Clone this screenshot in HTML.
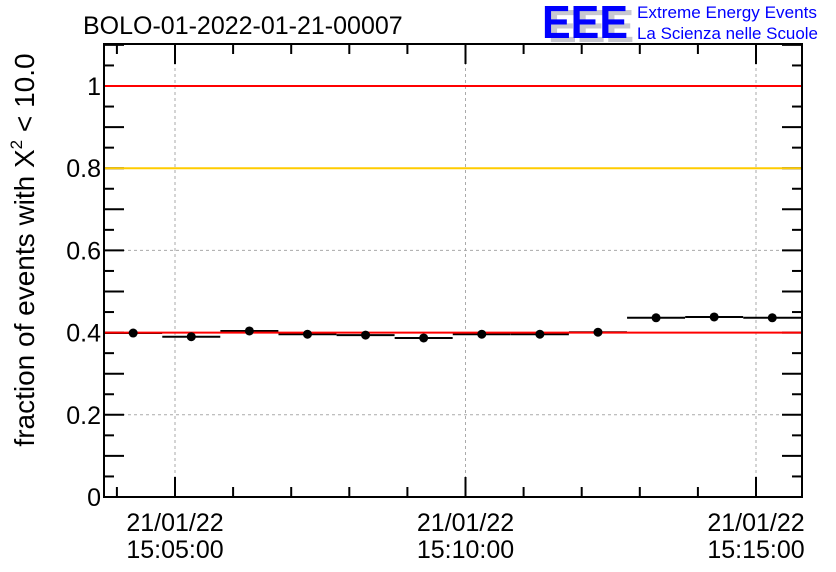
<!DOCTYPE html>
<html><head><meta charset="utf-8"><style>
body{margin:0;background:#fff;}
svg{display:block;font-family:"Liberation Sans",sans-serif;}
</style></head><body>
<svg id="c" width="836" height="572" viewBox="0 0 836 572">
<text x="83" y="34" font-size="25" fill="#000">BOLO-01-2022-01-21-00007</text>
<g>
<text x="548" y="42" font-size="46" font-weight="bold" fill="#c8c8d0" textLength="86" lengthAdjust="spacingAndGlyphs">EEE</text>
<text x="542" y="38" font-size="46" font-weight="bold" fill="#0000ff" textLength="86" lengthAdjust="spacingAndGlyphs">EEE</text>
<text x="637" y="18" font-size="17" fill="#0000ff" textLength="180" lengthAdjust="spacingAndGlyphs">Extreme Energy Events</text>
<text x="637" y="39" font-size="17" fill="#0000ff" textLength="181" lengthAdjust="spacingAndGlyphs">La Scienza nelle Scuole</text>
</g>
<text transform="translate(34,250) rotate(-90)" text-anchor="middle" font-size="28" fill="#000">fraction of events with X<tspan dy="-12" font-size="17">2</tspan><tspan dy="12"> &lt; 10.0</tspan></text>
<g id="plot"></g>
</svg>
<script>
const categories = ["15:04:17","15:05:17","15:06:17","15:07:17","15:08:17","15:09:17","15:10:17","15:11:17","15:12:17","15:13:17","15:14:17","15:15:17"];
const minutes = [-0.72,0.28,1.28,2.28,3.28,4.28,5.28,6.28,7.28,8.28,9.28,10.28];
const values = [0.399,0.390,0.404,0.396,0.394,0.387,0.396,0.396,0.401,0.436,0.438,0.436];
const xTickMinutes = [0,5,10];
const xTickLabels = [["21/01/22","15:05:00"],["21/01/22","15:10:00"],["21/01/22","15:15:00"]];
const yTickValues = [0,0.2,0.4,0.6,0.8,1];
const yTickLabels = ["0","0.2","0.4","0.6","0.8","1"];
const refLines = [[1.0,"#ff0000"],[0.8,"#ffcc00"],[0.4,"#ff0000"]];

const L=104,R=802,T=44,B=497;
const X=m=>175+m*58.1;
const Y=v=>B-v*411;
const NS="http://www.w3.org/2000/svg";
const g=document.getElementById('plot');
function mk(t,a){const e=document.createElementNS(NS,t);for(const k in a)e.setAttribute(k,a[k]);g.appendChild(e);return e;}
// grid
xTickMinutes.forEach(m=>{const e=mk('line',{x1:X(m),x2:X(m),y1:T,y2:B,stroke:'#aaa','stroke-dasharray':'3,3'});

});
[0.2,0.6].forEach(v=>{const e=mk('line',{x1:L,x2:R,y1:Y(v),y2:Y(v),stroke:'#aaa','stroke-dasharray':'3,3'});

});
// y ticks
for(let i=0;i<=22;i++){const v=i*0.05,len=(i%2==0)?20:10;
mk('line',{x1:L,x2:L+len,y1:Y(v),y2:Y(v),stroke:'#000','stroke-width':2});
mk('line',{x1:R,x2:R-len,y1:Y(v),y2:Y(v),stroke:'#000','stroke-width':2});}
yTickValues.forEach((v,i)=>{const t=mk('text',{x:L-3,y:Y(v)+9,'text-anchor':'end','font-size':25});t.textContent=yTickLabels[i];

});
// x ticks
for(let m=-1;m<=10;m++){const len=(m%5==0)?20:10;
mk('line',{x1:X(m),x2:X(m),y1:B,y2:B-len,stroke:'#000','stroke-width':2});
mk('line',{x1:X(m),x2:X(m),y1:T,y2:T+len,stroke:'#000','stroke-width':2});}
xTickMinutes.forEach((m,i)=>{xTickLabels[i].forEach((s,j)=>{const t=mk('text',{x:X(m),y:531+j*27,'text-anchor':'middle','font-size':25});t.textContent=s;

});});
// error bars
values.forEach((v,i)=>{const cx=X(minutes[i]);
const e=mk('line',{x1:cx-29,x2:cx+29,y1:Y(v),y2:Y(v),stroke:'#000','stroke-width':2});

});
// reference lines
refLines.forEach(r=>{const e=mk('line',{x1:L,x2:R,y1:Y(r[0]),y2:Y(r[0]),stroke:r[1],'stroke-width':2});

});
// points
values.forEach((v,i)=>{const cx=X(minutes[i]);
const c=mk('circle',{cx:cx,cy:Y(v),r:4.5,fill:'#000'});

});
// frame
const f=mk('rect',{x:L,y:T,width:R-L,height:B-T,fill:'none',stroke:'#000','stroke-width':2});


</script>
</body></html>
